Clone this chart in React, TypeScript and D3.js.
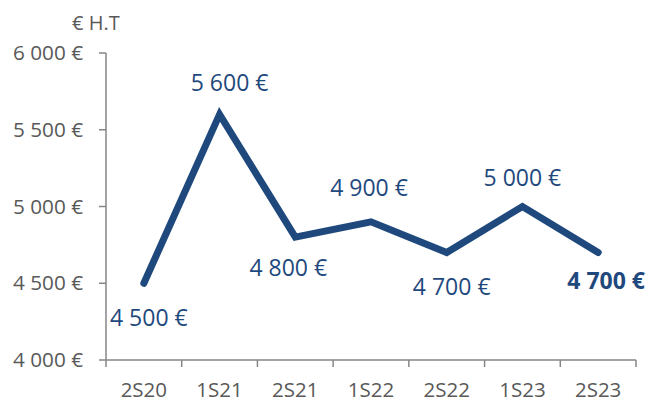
import React from "react";
import * as d3 from "d3";

const categories = ["2S20", "1S21", "2S21", "1S22", "2S22", "1S23", "2S23"];
const values = [4500, 5600, 4800, 4900, 4700, 5000, 4700];
const yTicks = [4000, 4500, 5000, 5500, 6000];
const labelPlacement = ["below", "above", "below", "above", "below", "above", "below"];
const labelBold = [false, false, false, false, false, false, true];
const labelNudge: [number, number][] = [
  [5, 3], [10, 0], [-7, -1], [-2, -3], [5, 2], [0, 2], [8, -4],
];

const W = 647;
const H = 402;
const FONT = "'Open Sans', 'Noto Sans', sans-serif";
const BLUE = "#1F497D";
const GRAY = "#595959";
const AXIS = "#868686";

const fmt = (v: number) => d3.format(",")(v).replace(/,/g, " ") + " €";

export default function App() {
  const x = d3.scaleBand<string>().domain(categories).range([106, 636]);
  const y = d3.scaleLinear().domain([4000, 6000]).range([360, 53]);
  const cx = (c: string) => (x(c) ?? 0) + x.bandwidth() / 2;
  const line = d3
    .line<number>()
    .x((_, i) => cx(categories[i]))
    .y((d) => y(d));
  const bounds = [...categories.map((c) => x(c) ?? 0), 636];

  return (
    <svg
      width={W}
      height={H}
      style={{ position: "absolute", left: 0, top: 0, background: "#fff" }}
      fontFamily={FONT}
    >
      <text x={72} y={30} fontSize={20} fill={GRAY}>€ H.T</text>
      {/* y axis */}
      <line x1={106} x2={106} y1={y(6000)} y2={y(4000)} stroke={AXIS} strokeWidth={1.5} />
      {yTicks.map((t) => (
        <g key={t}>
          <line x1={99} x2={106} y1={y(t)} y2={y(t)} stroke={AXIS} strokeWidth={1.5} />
          <text x={83} y={y(t)} dy="0.35em" textAnchor="end" fontSize={20.7} fill={GRAY}>
            {fmt(t)}
          </text>
        </g>
      ))}
      {/* x axis */}
      <line x1={106} x2={636} y1={360} y2={360} stroke={AXIS} strokeWidth={1.5} />
      {bounds.map((b, i) => (
        <line key={i} x1={b} x2={b} y1={360} y2={367} stroke={AXIS} strokeWidth={1.5} />
      ))}
      {categories.map((c) => (
        <text key={c} x={cx(c)} y={397} textAnchor="middle" fontSize={20.5} fill={GRAY}>
          {c}
        </text>
      ))}
      <path
        d={line(values) ?? ""}
        fill="none"
        stroke={BLUE}
        strokeWidth={7}
        strokeLinecap="round"
        strokeLinejoin="miter"
      />
      {values.map((v, i) => {
        const px = cx(categories[i]);
        const py = y(v);
        const off = labelPlacement[i] === "above" ? -31 : 32;
        return (
          <text
            key={i}
            x={px + labelNudge[i][0]}
            y={py + off + labelNudge[i][1]}
            dy="0.35em"
            textAnchor="middle"
            fontSize={23}
            fontWeight={labelBold[i] ? 700 : 400}
            fill={BLUE}
          >
            {fmt(v)}
          </text>
        );
      })}
    </svg>
  );
}
